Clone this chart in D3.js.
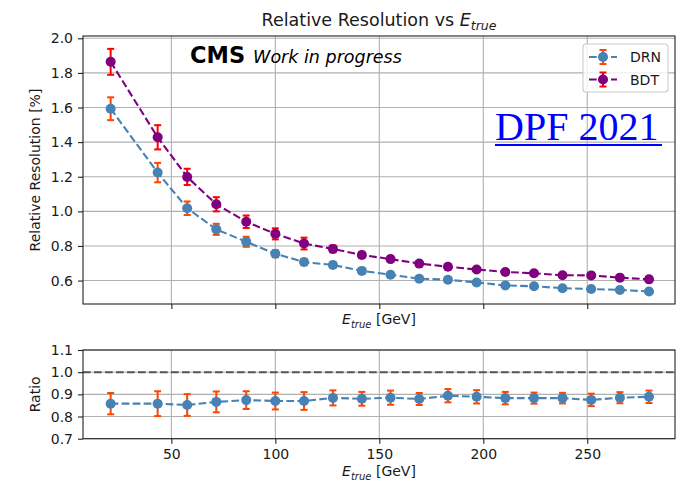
<!DOCTYPE html>
<html>
<head>
<meta charset="utf-8">
<script src="https://cdn.jsdelivr.net/npm/d3@7"></script>
<style>
  html, body { margin: 0; padding: 0; background: #fff; }
  svg { display: block; font-family: "DejaVu Sans", sans-serif; }
</style>
</head>
<body>
<svg id="chart" width="692" height="487"></svg>
<script>
// True energy bin centres [GeV]
const energy = [20.8, 43.4, 57.6, 71.6, 86.0, 100.0, 113.8, 127.7, 141.6, 155.4,
                169.2, 183.0, 196.8, 210.6, 224.4, 238.1, 251.9, 265.7, 279.7];

// Relative resolution [%] per bin
const drnRes = [1.593, 1.224, 1.018, 0.896, 0.824, 0.755, 0.707, 0.690, 0.656, 0.634,
                0.611, 0.605, 0.589, 0.572, 0.567, 0.556, 0.551, 0.546, 0.537];
const drnErr = [0.066, 0.056, 0.039, 0.032, 0.029, 0.020, 0.018, 0.016, 0.015, 0.014,
                0.013, 0.012, 0.012, 0.011, 0.011, 0.010, 0.010, 0.010, 0.010];
const bdtRes = [1.864, 1.428, 1.199, 1.041, 0.940, 0.870, 0.814, 0.783, 0.748, 0.724,
                0.698, 0.680, 0.664, 0.650, 0.642, 0.631, 0.630, 0.617, 0.607];
const bdtErr = [0.075, 0.070, 0.047, 0.041, 0.036, 0.032, 0.034, 0.020, 0.018, 0.016,
                0.015, 0.014, 0.013, 0.013, 0.012, 0.012, 0.011, 0.011, 0.011];

// DRN / BDT ratio per bin
const ratio    = [0.858, 0.858, 0.852, 0.866, 0.874, 0.870, 0.870, 0.884, 0.880, 0.885,
                  0.879, 0.894, 0.889, 0.883, 0.883, 0.883, 0.875, 0.885, 0.889];
const ratioErr = [0.048, 0.056, 0.049, 0.047, 0.040, 0.038, 0.040, 0.034, 0.031, 0.032,
                  0.027, 0.030, 0.030, 0.028, 0.025, 0.024, 0.028, 0.025, 0.028];

// Axis ticks
const xTicks = [50, 100, 150, 200, 250];
const resTicks = [0.6, 0.8, 1.0, 1.2, 1.4, 1.6, 1.8, 2.0];
const ratioTicks = [0.7, 0.8, 0.9, 1.0, 1.1];

const seriesNames = ["DRN", "BDT"];

const svg = d3.select("#chart");
const left = 83, right = 675;
const top1 = 36, bot1 = 304;
const top2 = 350, bot2 = 438.7;

const gridColor = "#b0b0b0";
const textColor = "#1a1a1a";

const x = d3.scaleLinear().domain([7.5, 292.2]).range([left, right]);
const yRes = d3.scaleLinear().domain([0.4646, 2.0133]).range([bot1, top1]);
const yRatio = d3.scaleLinear().domain([0.7, 1.1]).range([bot2, top2]);

function styleAxis(g) {
  g.select(".domain").remove();
  g.selectAll(".tick line").attr("stroke", "#222").attr("stroke-width", 1.1);
  g.selectAll(".tick text").attr("fill", textColor).style("font-size", "14px")
    .style("font-family", "DejaVu Sans, sans-serif");
}

function panel(y, yTicks, fmt, t, b) {
  // grid
  const grid = svg.append("g");
  grid.selectAll("line.v").data(xTicks).join("line").attr("class", "v")
    .attr("x1", d => x(d)).attr("x2", d => x(d))
    .attr("y1", t).attr("y2", b)
    .attr("stroke", gridColor).attr("stroke-width", 1.1);
  grid.selectAll("line.h").data(yTicks).join("line").attr("class", "h")
    .attr("x1", left).attr("x2", right)
    .attr("y1", d => y(d)).attr("y2", d => y(d))
    .attr("stroke", gridColor).attr("stroke-width", 1.1);
  svg.append("g").attr("transform", `translate(${left},0)`)
    .call(d3.axisLeft(y).tickValues(yTicks).tickFormat(fmt).tickSize(5).tickPadding(5))
    .call(styleAxis);
}

function frame(t, b) {
  svg.append("rect").attr("x", left).attr("y", t)
    .attr("width", right - left).attr("height", b - t)
    .attr("fill", "none").attr("stroke", "#222").attr("stroke-width", 1.1);
}

function errSeries(g, xs, ys, es, y, lineColor, errColor) {
  const line = d3.line().x((d, i) => x(xs[i])).y(d => y(d));
  g.append("path").datum(ys).attr("d", line)
    .attr("fill", "none").attr("stroke", lineColor).attr("stroke-width", 2.1)
    .attr("stroke-dasharray", "7.7,3.3");
  const eb = g.append("g").selectAll("g").data(ys).join("g")
    .attr("stroke", errColor).attr("stroke-width", 2);
  eb.append("line")
    .attr("x1", (d, i) => x(xs[i])).attr("x2", (d, i) => x(xs[i]))
    .attr("y1", (d, i) => y(d - es[i])).attr("y2", (d, i) => y(d + es[i]));
  eb.append("line")
    .attr("x1", (d, i) => x(xs[i]) - 3.5).attr("x2", (d, i) => x(xs[i]) + 3.5)
    .attr("y1", (d, i) => y(d - es[i])).attr("y2", (d, i) => y(d - es[i]));
  eb.append("line")
    .attr("x1", (d, i) => x(xs[i]) - 3.5).attr("x2", (d, i) => x(xs[i]) + 3.5)
    .attr("y1", (d, i) => y(d + es[i])).attr("y2", (d, i) => y(d + es[i]));
  g.append("g").selectAll("circle").data(ys).join("circle")
    .attr("cx", (d, i) => x(xs[i])).attr("cy", d => y(d)).attr("r", 5)
    .attr("fill", lineColor);
}

function etrueLabel(g, cx, baseline) {
  const t = g.append("text").attr("x", cx).attr("y", baseline)
    .attr("text-anchor", "middle").attr("fill", textColor).style("font-size", "14px");
  t.append("tspan").attr("font-style", "italic").text("E");
  t.append("tspan").attr("font-style", "italic").attr("dy", 3.5).style("font-size", "10px").text("true");
  t.append("tspan").attr("dy", -3.5).text(" [GeV]");
}

// ---------- Top panel: relative resolution ----------
panel(yRes, resTicks, d3.format(".1f"), top1, bot1);
svg.append("g").attr("transform", `translate(0,${bot1})`)
  .call(d3.axisBottom(x).tickValues(xTicks).tickFormat("").tickSize(5))
  .call(styleAxis);

const resPanel = svg.append("g");
errSeries(resPanel, energy, drnRes, drnErr, yRes, "#4682b4", "#ff4500");
errSeries(resPanel, energy, bdtRes, bdtErr, yRes, "#800080", "#ff0000");
frame(top1, bot1);

// title
const title = svg.append("text").attr("x", (left + right) / 2).attr("y", 26)
  .attr("text-anchor", "middle").attr("fill", textColor).style("font-size", "17.5px");
title.append("tspan").text("Relative Resolution vs ");
title.append("tspan").attr("font-style", "italic").text("E");
title.append("tspan").attr("font-style", "italic").attr("dy", 4).style("font-size", "12.5px").text("true");

// y label
svg.append("text").attr("transform", `translate(40,${(top1 + bot1) / 2}) rotate(-90)`)
  .attr("text-anchor", "middle").attr("fill", textColor).style("font-size", "14px")
  .text("Relative Resolution [%]");

etrueLabel(svg, (left + right) / 2, 324);

// CMS label
const cms = svg.append("text").attr("x", 190).attr("y", 63).attr("fill", "#000");
cms.append("tspan").attr("font-weight", "bold").style("font-size", "22.5px").text("CMS");
cms.append("tspan").attr("dx", 8).attr("font-style", "italic").style("font-size", "17.5px").text("Work in progress");

// legend
const leg = svg.append("g");
leg.append("rect").attr("x", 583).attr("y", 44).attr("width", 85).attr("height", 48)
  .attr("rx", 3).attr("fill", "#fff").attr("fill-opacity", 0.8)
  .attr("stroke", "#cccccc").attr("stroke-width", 1.1);
const legendColors = [["#4682b4", "#ff4500"], ["#800080", "#ff0000"]];
seriesNames.forEach((name, i) => {
  const cy = 57 + i * 22.5;
  const [lc, ec] = legendColors[i];
  leg.append("line").attr("x1", 589).attr("x2", 617).attr("y1", cy).attr("y2", cy)
    .attr("stroke", lc).attr("stroke-width", 2.1).attr("stroke-dasharray", "7.7,3.3");
  leg.append("line").attr("x1", 603).attr("x2", 603).attr("y1", cy - 7).attr("y2", cy + 7)
    .attr("stroke", ec).attr("stroke-width", 2);
  leg.append("line").attr("x1", 599.5).attr("x2", 606.5).attr("y1", cy - 7).attr("y2", cy - 7)
    .attr("stroke", ec).attr("stroke-width", 2);
  leg.append("line").attr("x1", 599.5).attr("x2", 606.5).attr("y1", cy + 7).attr("y2", cy + 7)
    .attr("stroke", ec).attr("stroke-width", 2);
  leg.append("circle").attr("cx", 603).attr("cy", cy).attr("r", 5).attr("fill", lc);
  leg.append("text").attr("x", 630).attr("y", cy + 5).attr("fill", textColor)
    .style("font-size", "14px").text(name);
});

// conference tag
svg.append("text").attr("x", 495).attr("y", 140).attr("fill", "#0000ff")
  .style("font-family", "Liberation Serif, Times New Roman, serif").style("font-size", "40px")
  .text("DPF 2021");
svg.append("line").attr("x1", 495).attr("x2", 662).attr("y1", 145).attr("y2", 145)
  .attr("stroke", "#0000ff").attr("stroke-width", 2);

// ---------- Bottom panel: ratio ----------
panel(yRatio, ratioTicks, d3.format(".1f"), top2, bot2);
svg.append("g").attr("transform", `translate(0,${bot2})`)
  .call(d3.axisBottom(x).tickValues(xTicks).tickFormat(d3.format("d")).tickSize(5).tickPadding(5))
  .call(styleAxis);

svg.append("line").attr("x1", left).attr("x2", right)
  .attr("y1", yRatio(1.0)).attr("y2", yRatio(1.0))
  .attr("stroke", "#555").attr("stroke-width", 2).attr("stroke-dasharray", "7.7,3.3");

const ratioPanel = svg.append("g");
errSeries(ratioPanel, energy, ratio, ratioErr, yRatio, "#4682b4", "#ff4500");
frame(top2, bot2);

svg.append("text").attr("transform", `translate(40,${(top2 + bot2) / 2}) rotate(-90)`)
  .attr("text-anchor", "middle").attr("fill", textColor).style("font-size", "14px")
  .text("Ratio");

etrueLabel(svg, (left + right) / 2, 476);
</script>
</body>
</html>
